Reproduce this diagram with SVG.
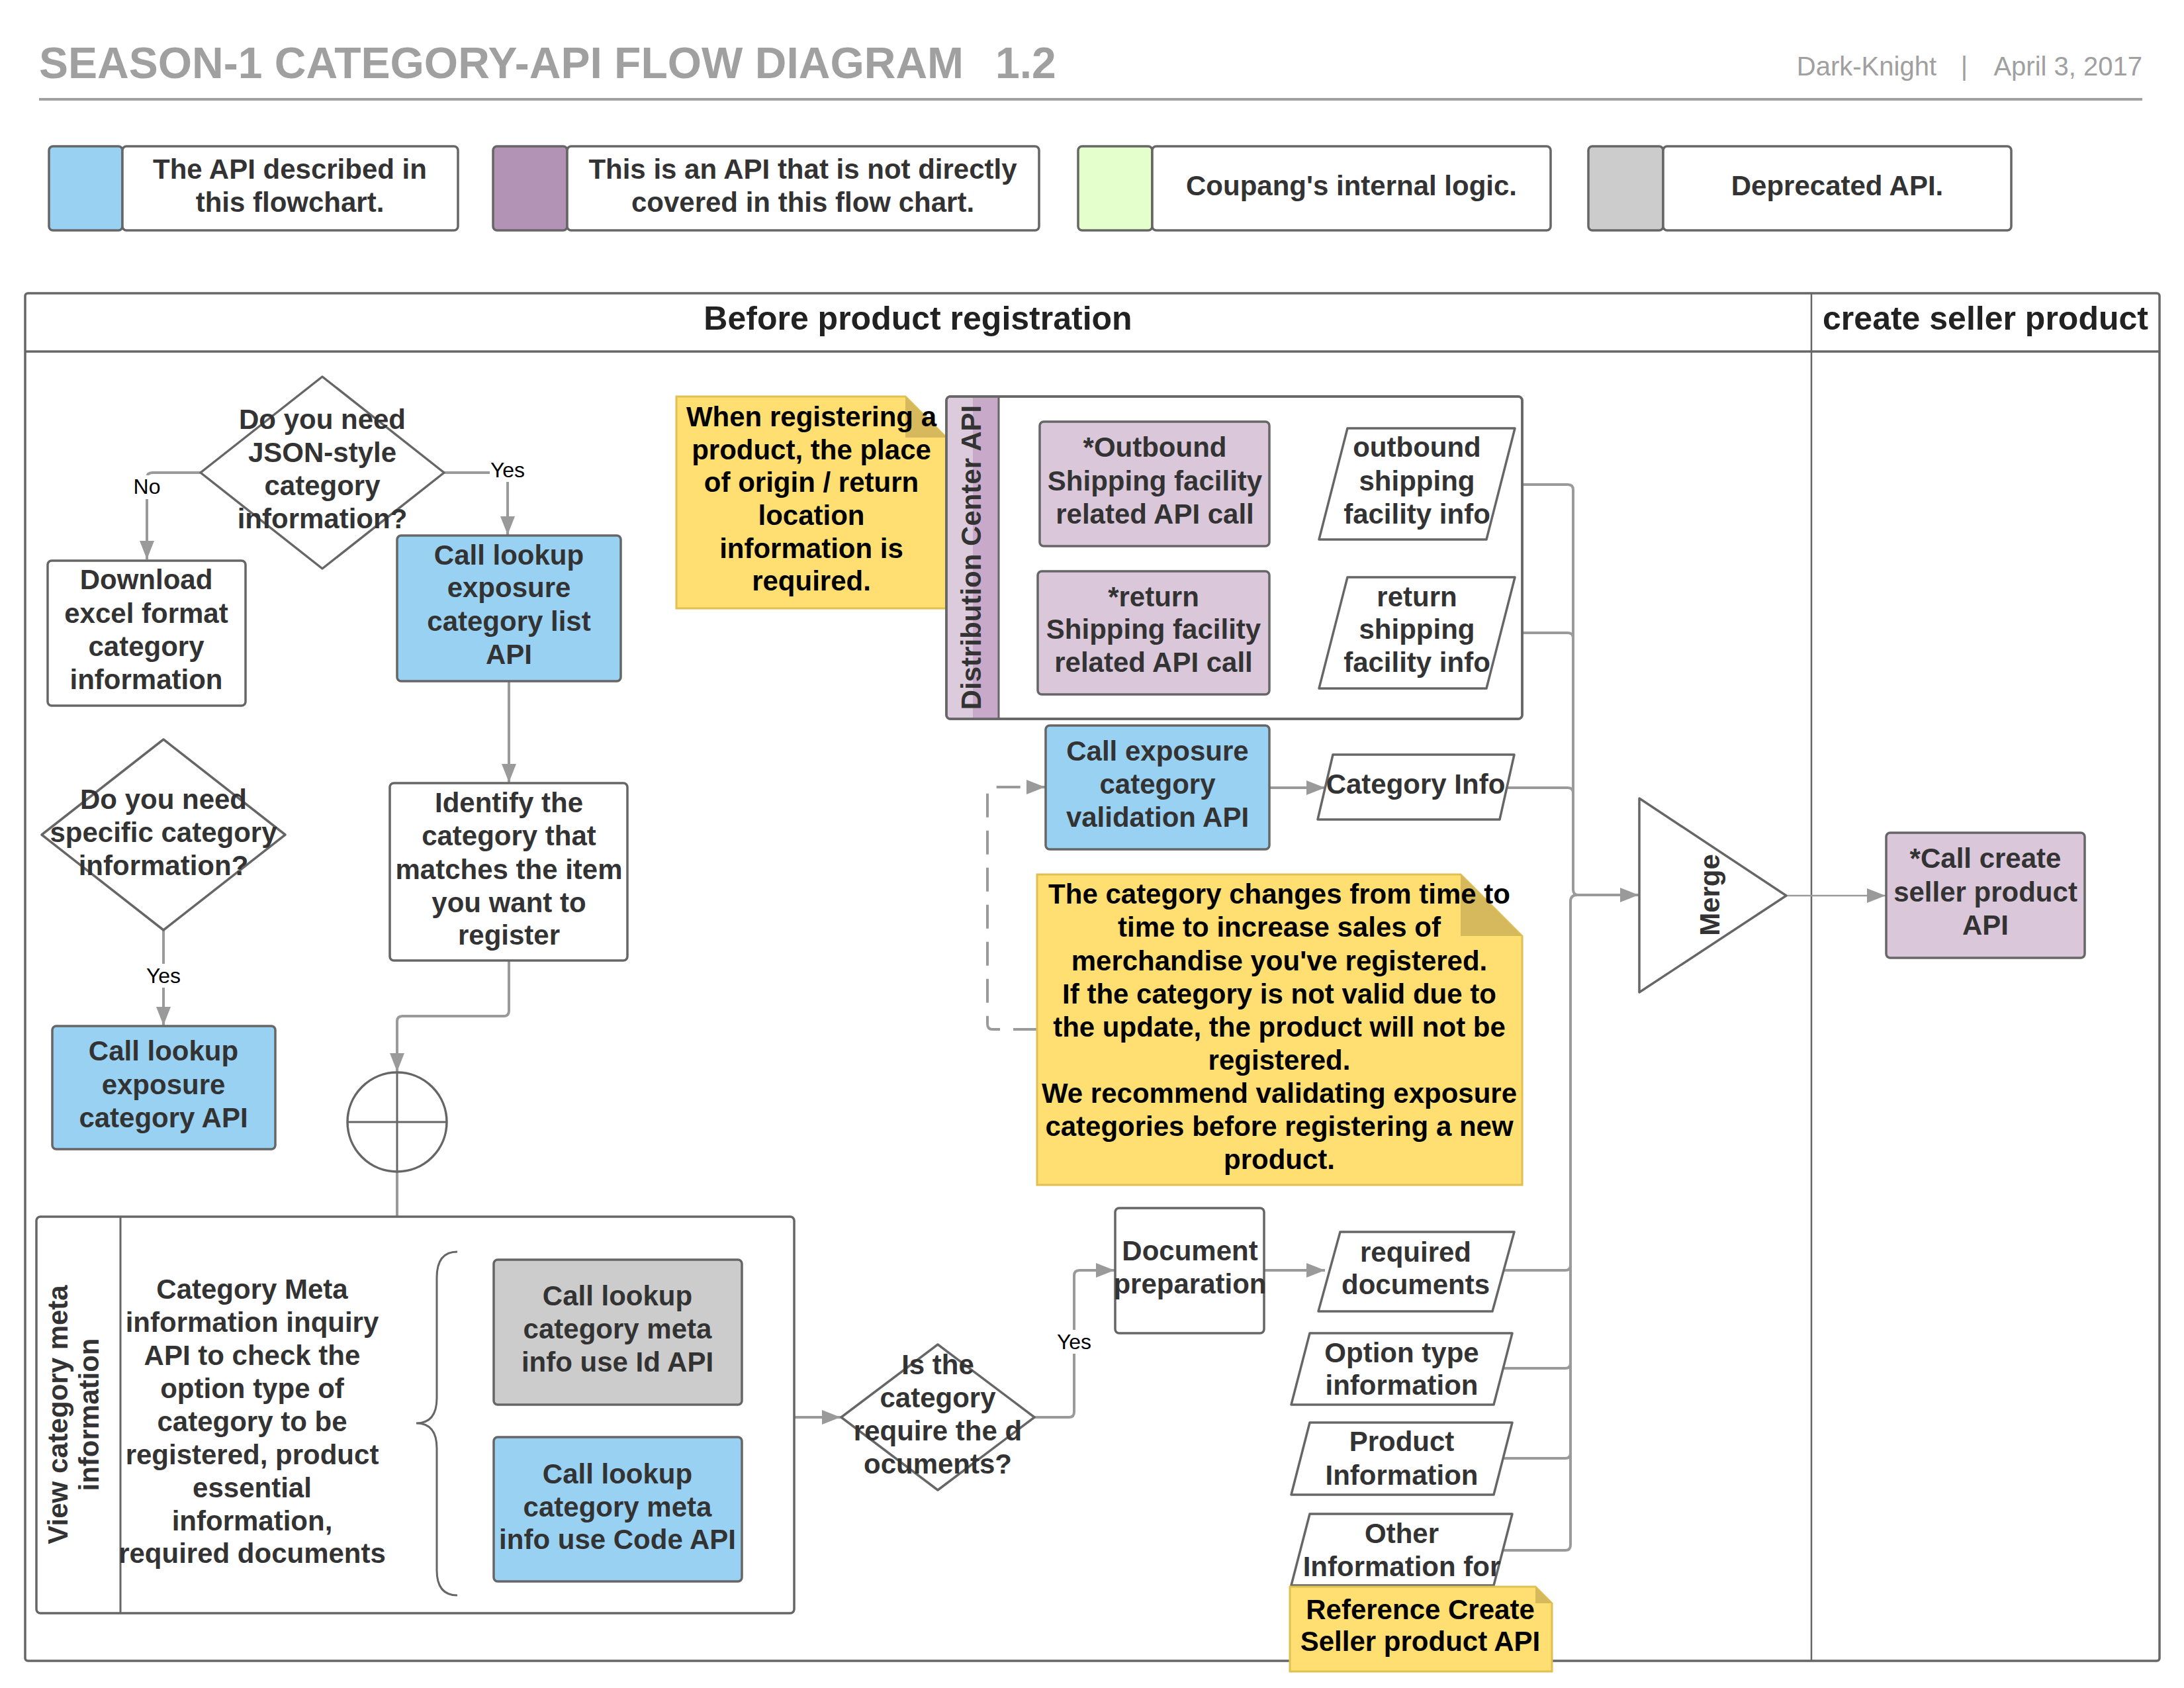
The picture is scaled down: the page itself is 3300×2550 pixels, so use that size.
<svg xmlns="http://www.w3.org/2000/svg" width="3300" height="2550" viewBox="0 0 3300 2550">
<style>
.t{font-family:"Liberation Sans",Arial,sans-serif;font-weight:bold;font-size:42px;fill:#333;text-anchor:middle}
.k{fill:#000}
.lb{font-family:"Liberation Sans",Arial,sans-serif;font-size:32px;fill:#000;text-anchor:middle}
.n{stroke:#666;stroke-width:3.5;stroke-linejoin:round}
.w{fill:#fff}
.bl{fill:#99d1f2}
.mv{fill:#dac8da}
.gr{fill:#ccc}
.note{fill:#ffdf71;stroke:#e0c050;stroke-width:3}
.fold{fill:#d6b95c}
.c{fill:none;stroke:#9a9a9a;stroke-width:4}
.bg{fill:#fff}
</style>
<defs>
<marker id="ah" markerUnits="userSpaceOnUse" markerWidth="30" markerHeight="24" refX="28" refY="11" orient="auto"><path d="M0,0 L28,11 L0,22 z" fill="#9a9a9a"/></marker>
</defs>
<rect x="0" y="0" width="3300" height="2550" fill="#fff"/>

<g id="title">
<text x="59" y="118" font-family="Liberation Sans,Arial,sans-serif" font-weight="bold" font-size="66" fill="#a0a0a0">SEASON-1 CATEGORY-API FLOW DIAGRAM</text>
<text x="1504" y="118" font-family="Liberation Sans,Arial,sans-serif" font-weight="bold" font-size="66" fill="#a0a0a0">1.2</text>
<text x="2926" y="114" font-family="Liberation Sans,Arial,sans-serif" font-size="40" fill="#a0a0a0" text-anchor="end">Dark-Knight</text>
<text x="2968" y="114" font-family="Liberation Sans,Arial,sans-serif" font-size="40" fill="#a0a0a0" text-anchor="middle">|</text>
<text x="3237" y="114" font-family="Liberation Sans,Arial,sans-serif" font-size="40" fill="#a0a0a0" text-anchor="end">April 3, 2017</text>
<line x1="59" y1="150" x2="3237" y2="150" stroke="#a0a0a0" stroke-width="4"/>
</g>

<g id="legend">
<g id="legend-1">
<rect class="n bl" x="74" y="221" width="111" height="127" rx="6"/>
<rect class="n w" x="185" y="221" width="507" height="127" rx="6"/>
<text class="t"><tspan x="438" y="270">The API described in</tspan><tspan x="438" y="320">this flowchart.</tspan></text>
</g>
<g id="legend-2">
<rect class="n" fill="#b292b5" x="745" y="221" width="112" height="127" rx="6"/>
<rect class="n w" x="857" y="221" width="713" height="127" rx="6"/>
<text class="t"><tspan x="1213" y="270">This is an API that is not directly</tspan><tspan x="1213" y="320">covered in this flow chart.</tspan></text>
</g>
<g id="legend-3">
<rect class="n" fill="#e5ffcc" x="1629" y="221" width="112" height="127" rx="6"/>
<rect class="n w" x="1741" y="221" width="602" height="127" rx="6"/>
<text class="t" x="2042" y="295">Coupang's internal logic.</text>
</g>
<g id="legend-4">
<rect class="n gr" x="2400" y="221" width="113" height="127" rx="6"/>
<rect class="n w" x="2513" y="221" width="526" height="127" rx="6"/>
<text class="t" x="2776" y="295">Deprecated API.</text>
</g>
</g>

<g id="frame">
<rect x="38" y="443" width="3225" height="2066" fill="none" stroke="#666" stroke-width="3.5" rx="4"/>
<line x1="38" y1="531" x2="3263" y2="531" stroke="#666" stroke-width="3.5"/>
<line x1="2737" y1="443" x2="2737" y2="2509" stroke="#666" stroke-width="2.5"/>
<text class="t" x="1387" y="498" style="font-size:50px;fill:#222">Before product registration</text>
<text class="t" x="3000" y="498" style="font-size:50px;fill:#222">create seller product</text>
</g>

<g id="connectors">
<path class="c" d="M303,714 H230 Q222,714 222,722 V845" marker-end="url(#ah)"/>
<path class="c" d="M671,714 H759 Q767,714 767,722 V808" marker-end="url(#ah)"/>
<path class="c" d="M769,1029 V1182" marker-end="url(#ah)"/>
<path class="c" d="M769,1451 V1527 Q769,1535 761,1535 H608 Q600,1535 600,1543 V1619" marker-end="url(#ah)"/>
<path class="c" d="M247,1406 V1549" marker-end="url(#ah)"/>
<path class="c" d="M600,1771 V2272 Q600,2280 608,2280 H745" marker-end="url(#ah)"/>
<path class="c" d="M600,2005 Q600,2013 608,2013 H745" marker-end="url(#ah)"/>
<path class="c" d="M1121,2013 H1186 Q1194,2013 1194,2021 V2133 Q1194,2141 1202,2141 H1270" marker-end="url(#ah)"/>
<path class="c" d="M1121,2280 H1186 Q1194,2280 1194,2272 V2149 Q1194,2141 1202,2141"/>
<path class="c" d="M1563,2141 H1615 Q1623,2141 1623,2133 V1927 Q1623,1919 1631,1919 H1684" marker-end="url(#ah)"/>
<path class="c" d="M1910,1919 H2002" marker-end="url(#ah)"/>
<path class="c" d="M1918,732 H2014" marker-end="url(#ah)"/>
<path class="c" d="M1918,956 H2014" marker-end="url(#ah)"/>
<path class="c" d="M1918,1190 H2002" marker-end="url(#ah)"/>
<path class="c" d="M1567,1555 H1500 Q1492,1555 1492,1547 V1197 Q1492,1189 1500,1189 H1579" stroke-dasharray="36 20" marker-end="url(#ah)"/>
<path class="c" d="M2268,732 H2369 Q2377,732 2377,740 V1344 Q2377,1352 2385,1352 H2476" marker-end="url(#ah)"/>
<path class="c" d="M2268,956 H2369 Q2377,956 2377,964 V1000"/>
<path class="c" d="M2277,1190 H2369 Q2377,1190 2377,1198 V1230"/>
<path class="c" d="M2266,2342 H2365 Q2373,2342 2373,2334 V1362 Q2373,1352 2383,1352 H2420"/>
<path class="c" d="M2272,1919 H2365 Q2373,1919 2373,1911 V1880"/>
<path class="c" d="M2271,2067 H2365 Q2373,2067 2373,2059 V2030"/>
<path class="c" d="M2271,2203 H2365 Q2373,2203 2373,2195 V2160"/>
<path class="c" d="M2699,1353 H2849" style="stroke-width:2.5" marker-end="url(#ah)"/>
<rect class="bg" x="201" y="718" width="42" height="36"/>
<text class="lb" x="222" y="746">No</text>
<rect class="bg" x="740" y="692" width="54" height="36"/>
<text class="lb" x="767" y="721">Yes</text>
<rect class="bg" x="220" y="1456" width="54" height="36"/>
<text class="lb" x="247" y="1485">Yes</text>
<rect class="bg" x="1596" y="2009" width="54" height="36"/>
<text class="lb" x="1623" y="2038">Yes</text>
</g>

<g id="q-json">
<polygon class="n w" points="487,569 671,714 487,859 303,714"/>
<text class="t"><tspan x="487" y="648">Do you need</tspan><tspan x="487" y="698">JSON-style</tspan><tspan x="487" y="748">category</tspan><tspan x="487" y="798">information?</tspan></text>
</g>
<g id="download-excel">
<rect class="n w" x="72" y="847" width="299" height="219" rx="6"/>
<text class="t"><tspan x="221" y="890">Download</tspan><tspan x="221" y="941">excel format</tspan><tspan x="221" y="991">category</tspan><tspan x="221" y="1041">information</tspan></text>
</g>
<g id="lookup-list">
<rect class="n bl" x="600" y="809" width="338" height="220" rx="6"/>
<text class="t"><tspan x="769" y="853">Call lookup</tspan><tspan x="769" y="902">exposure</tspan><tspan x="769" y="953">category list</tspan><tspan x="769" y="1003">API</tspan></text>
</g>
<g id="identify">
<rect class="n w" x="589" y="1183" width="359" height="268" rx="6"/>
<text class="t"><tspan x="769" y="1227">Identify the</tspan><tspan x="769" y="1277">category that</tspan><tspan x="769" y="1328">matches the item</tspan><tspan x="769" y="1378">you want to</tspan><tspan x="769" y="1427">register</tspan></text>
</g>
<g id="q-specific">
<polygon class="n w" points="247,1117 431,1261 247,1405 63,1261"/>
<text class="t"><tspan x="247" y="1222">Do you need</tspan><tspan x="247" y="1272">specific category</tspan><tspan x="247" y="1322">information?</tspan></text>
</g>
<g id="lookup-category">
<rect class="n bl" x="79" y="1550" width="337" height="186" rx="6"/>
<text class="t"><tspan x="247" y="1602">Call lookup</tspan><tspan x="247" y="1653">exposure</tspan><tspan x="247" y="1703">category API</tspan></text>
</g>
<g id="junction">
<circle class="n w" cx="600" cy="1695" r="75"/>
<line x1="600" y1="1620" x2="600" y2="1770" stroke="#666" stroke-width="3"/>
<line x1="525" y1="1695" x2="675" y2="1695" stroke="#666" stroke-width="3"/>
</g>

<g id="note-origin">
<path class="note" d="M1022,599 H1368 L1430,661 V919 H1022 Z"/>
<path class="fold" d="M1368,599 L1430,661 H1368 Z"/>
<text class="t k"><tspan x="1226" y="644">When registering a</tspan><tspan x="1226" y="694">product, the place</tspan><tspan x="1226" y="743">of origin / return</tspan><tspan x="1226" y="793">location</tspan><tspan x="1226" y="843">information is</tspan><tspan x="1226" y="892">required.</tspan></text>
</g>

<g id="distribution-center">
<rect class="n w" x="1430" y="599" width="870" height="487" rx="6"/>
<rect x="1432" y="601" width="38" height="483" fill="#dccbdc"/>
<rect x="1470" y="601" width="39" height="483" fill="#c9a9c9"/>
<rect x="1430" y="599" width="870" height="487" rx="6" fill="none" stroke="#666" stroke-width="3.5"/>
<line x1="1509" y1="599" x2="1509" y2="1086" stroke="#666" stroke-width="3"/>
<text class="t" transform="translate(1482,842) rotate(-90)" x="0" y="0">Distribution Center API</text>
</g>
<g id="outbound-call">
<rect class="n mv" x="1571" y="637" width="347" height="188" rx="6"/>
<text class="t"><tspan x="1745" y="690">*Outbound</tspan><tspan x="1745" y="741">Shipping facility</tspan><tspan x="1745" y="791">related API call</tspan></text>
</g>
<g id="outbound-info">
<polygon class="n w" points="2036,647 2289,647 2246,815 1993,815"/>
<text class="t"><tspan x="2141" y="690">outbound</tspan><tspan x="2141" y="741">shipping</tspan><tspan x="2141" y="791">facility info</tspan></text>
</g>
<g id="return-call">
<rect class="n mv" x="1568" y="863" width="350" height="186" rx="6"/>
<text class="t"><tspan x="1743" y="916">*return</tspan><tspan x="1743" y="965">Shipping facility</tspan><tspan x="1743" y="1015">related API call</tspan></text>
</g>
<g id="return-info">
<polygon class="n w" points="2036,872 2289,872 2246,1040 1993,1040"/>
<text class="t"><tspan x="2141" y="916">return</tspan><tspan x="2141" y="965">shipping</tspan><tspan x="2141" y="1015">facility info</tspan></text>
</g>
<g id="validation">
<rect class="n bl" x="1580" y="1096" width="338" height="187" rx="6"/>
<text class="t"><tspan x="1749" y="1149">Call exposure</tspan><tspan x="1749" y="1199">category</tspan><tspan x="1749" y="1249">validation API</tspan></text>
</g>
<g id="category-info">
<polygon class="n w" points="2014,1140 2288,1140 2266,1238 1991,1238"/>
<text class="t" x="2139" y="1199">Category Info</text>
</g>
<g id="note-category">
<path class="note" d="M1567,1321 H2207 L2300,1414 V1790 H1567 Z"/>
<path class="fold" d="M2207,1321 L2300,1414 H2207 Z"/>
<text class="t k"><tspan x="1933" y="1365">The category changes from time to</tspan><tspan x="1933" y="1415">time to increase sales of</tspan><tspan x="1933" y="1466">merchandise you've registered.</tspan><tspan x="1933" y="1516">If the category is not valid due to</tspan><tspan x="1933" y="1566">the update, the product will not be</tspan><tspan x="1933" y="1616">registered.</tspan><tspan x="1933" y="1666">We recommend validating exposure</tspan><tspan x="1933" y="1716">categories before registering a new</tspan><tspan x="1933" y="1766">product.</tspan></text>
</g>

<g id="view-meta">
<rect class="n w" x="55" y="1838" width="1145" height="599" rx="6"/>
<line x1="182" y1="1838" x2="182" y2="2437" stroke="#666" stroke-width="3"/>
<text class="t" transform="translate(102,2137) rotate(-90)" x="0" y="0">View category meta</text>
<text class="t" transform="translate(149,2137) rotate(-90)" x="0" y="0">information</text>
<text class="t"><tspan x="381" y="1962">Category Meta</tspan><tspan x="381" y="2012">information inquiry</tspan><tspan x="381" y="2062">API to check the</tspan><tspan x="381" y="2112">option type of</tspan><tspan x="381" y="2162">category to be</tspan><tspan x="381" y="2212">registered, product</tspan><tspan x="381" y="2262">essential</tspan><tspan x="381" y="2312">information,</tspan><tspan x="381" y="2361">required documents</tspan></text>
<path d="M691,1891 Q660,1891 660,1930 V2112 Q660,2150 629,2150 Q660,2150 660,2188 V2372 Q660,2410 691,2410" fill="none" stroke="#666" stroke-width="3"/>
</g>
<g id="meta-id">
<rect class="n gr" x="746" y="1903" width="375" height="219" rx="6"/>
<text class="t"><tspan x="933" y="1972">Call lookup</tspan><tspan x="933" y="2022">category meta</tspan><tspan x="933" y="2072">info use Id API</tspan></text>
</g>
<g id="meta-code">
<rect class="n bl" x="746" y="2171" width="375" height="218" rx="6"/>
<text class="t"><tspan x="933" y="2241">Call lookup</tspan><tspan x="933" y="2291">category meta</tspan><tspan x="933" y="2340">info use Code API</tspan></text>
</g>
<g id="q-documents">
<polygon class="n w" points="1417,2031 1563,2141 1417,2251 1271,2141"/>
<text class="t"><tspan x="1417" y="2076">Is the</tspan><tspan x="1417" y="2126">category</tspan><tspan x="1417" y="2176">require the d</tspan><tspan x="1417" y="2226">ocuments?</tspan></text>
</g>
<g id="document-prep">
<rect class="n w" x="1685" y="1825" width="225" height="189" rx="6"/>
<text class="t"><tspan x="1798" y="1904">Document</tspan><tspan x="1798" y="1954">preparation</tspan></text>
</g>
<g id="required-docs">
<polygon class="n w" points="2025,1861 2288,1861 2255,1981 1992,1981"/>
<text class="t"><tspan x="2139" y="1906">required</tspan><tspan x="2139" y="1955">documents</tspan></text>
</g>
<g id="option-type">
<polygon class="n w" points="1979,2014 2285,2014 2257,2122 1951,2122"/>
<text class="t"><tspan x="2118" y="2058">Option type</tspan><tspan x="2118" y="2107">information</tspan></text>
</g>
<g id="product-info">
<polygon class="n w" points="1979,2149 2285,2149 2257,2258 1951,2258"/>
<text class="t"><tspan x="2118" y="2192">Product</tspan><tspan x="2118" y="2243">Information</tspan></text>
</g>
<g id="other-info">
<polygon class="n w" points="1979,2287 2285,2287 2257,2395 1951,2395"/>
<text class="t"><tspan x="2118" y="2331">Other</tspan><tspan x="2118" y="2381">Information for</tspan></text>
</g>
<g id="note-reference">
<path class="note" d="M1949,2397 H2320 L2345,2422 V2525 H1949 Z"/>
<path class="fold" d="M2320,2397 L2345,2422 H2320 Z"/>
<text class="t k"><tspan x="2146" y="2446">Reference Create</tspan><tspan x="2146" y="2494">Seller product API</tspan></text>
</g>

<g id="merge">
<polygon class="n w" points="2477,1206 2699,1353 2477,1499"/>
<text class="t" transform="translate(2598,1352) rotate(-90)" x="0" y="0">Merge</text>
</g>
<g id="create-seller-product">
<rect class="n mv" x="2850" y="1258" width="300" height="189" rx="6"/>
<text class="t"><tspan x="3000" y="1311">*Call create</tspan><tspan x="3000" y="1362">seller product</tspan><tspan x="3000" y="1412">API</tspan></text>
</g>
</svg>
